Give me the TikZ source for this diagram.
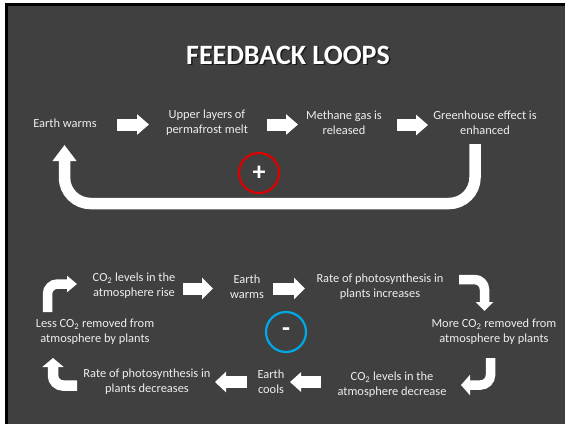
\documentclass[tikz,border=0pt]{standalone}
\usepackage{fontspec}
\setmainfont{Carlito}
\usetikzlibrary{arrows.meta}
\definecolor{bg}{HTML}{404040}
\definecolor{txt}{HTML}{EEEEEE}
\definecolor{pluscol}{HTML}{E00000}
\definecolor{minuscol}{HTML}{00A8E8}
\begin{document}
\begin{tikzpicture}[x=1pt,y=-1pt,
  lbl/.style={text=txt, font=\fontsize{12.4}{15}\selectfont, align=center, inner sep=0pt},
  blockarr/.style n args={3}{draw=white, line width=#1pt, -{Triangle[length=#2pt, width=#3pt]}},
  signcirc/.style={circle, minimum size=40pt, inner sep=0pt, line width=2.2pt, text=white, font=\bfseries\fontsize{26}{26}\selectfont}
]
\fill[white] (0,0) rectangle (565,424);
\useasboundingbox (0,0) rectangle (565,424);
\fill[black] (5,3) rectangle (565,424);
\fill[bg] (8,6) rectangle (565,424);

% title
\node[text=black, opacity=0.6, font=\bfseries\fontsize{28}{28}\selectfont] at (289.5,56.5) {FEEDBACK LOOPS};
\node[text=white, font=\bfseries\fontsize{28}{28}\selectfont] (title) at (288,55) {FEEDBACK LOOPS};

% positive loop
\node[lbl] (t1) at (65,123.5) {Earth warms};
\node[lbl] (t2) at (207,122.5) {Upper layers of\\permafrost melt};
\node[lbl] (t3) at (344,122.5) {Methane gas is\\released};
\node[lbl] (t4) at (485,122.5) {Greenhouse effect is\\enhanced};
\node[signcirc, draw=pluscol] (plus) at (259,173) {+};

\coordinate (a1s) at (117,124.5); \coordinate (a1e) at (149,124.5);
\coordinate (a2s) at (267,124.5); \coordinate (a2e) at (298,124.5);
\coordinate (a3s) at (397,125); \coordinate (a3e) at (428,125);
\draw[blockarr={12}{12}{20}] (a1s) -- (a1e);
\draw[blockarr={12}{12}{20}] (a2s) -- (a2e);
\draw[blockarr={12}{12}{20}] (a3s) -- (a3e);

\coordinate (us) at (475,144); \coordinate (ur) at (475,203.5);
\coordinate (ul) at (64.5,203.5); \coordinate (ue) at (64.5,145);
\draw[blockarr={11.5}{16}{23}, rounded corners=26pt] (us) -- (ur) -- (ul) -- (ue);

% negative loop
\node[lbl] (b1) at (134,286) {CO\textsubscript{2} levels in the\\atmosphere rise};
\node[lbl] (b2) at (247,287) {Earth\\warms};
\node[lbl] (b3) at (380,287) {Rate of photosynthesis in\\plants increases};
\node[lbl] (b4) at (494,331.5) {More CO\textsubscript{2} removed from\\atmosphere by plants};
\node[lbl] (b5) at (392,385) {CO\textsubscript{2} levels in the\\atmosphere decrease};
\node[lbl] (b6) at (271,382) {Earth\\cools};
\node[lbl] (b7) at (147,382) {Rate of photosynthesis in\\plants decreases};
\node[lbl] (b8) at (95,332) {Less CO\textsubscript{2} removed from\\atmosphere by plants};
\node[signcirc, draw=minuscol] (minus) at (286,332) {-};

\coordinate (c1s) at (183,288.5); \coordinate (c1e) at (213,288.5);
\coordinate (c2s) at (273,288.5); \coordinate (c2e) at (305,288.5);
\coordinate (c3s) at (321,382); \coordinate (c3e) at (290,382);
\coordinate (c4s) at (247,382); \coordinate (c4e) at (215,382);
\draw[blockarr={12}{11}{21}] (c1s) -- (c1e);
\draw[blockarr={12}{11}{21}] (c2s) -- (c2e);
\draw[blockarr={12}{11}{19}] (c3s) -- (c3e);
\draw[blockarr={12}{11}{20}] (c4s) -- (c4e);

% curved corner arrows
\coordinate (k1s) at (47.5,312); \coordinate (k1m) at (47.5,284); \coordinate (k1e) at (77,284);
\draw[blockarr={9.5}{10}{16}, rounded corners=10pt] (k1s) -- (k1m) -- (k1e);
\coordinate (k2s) at (459,279.5); \coordinate (k2m) at (484.5,279.5); \coordinate (k2e) at (484.5,311);
\draw[blockarr={9.5}{9}{17}, rounded corners=10pt] (k2s) -- (k2m) -- (k2e);
\coordinate (k3s) at (490.5,358); \coordinate (k3m) at (490.5,385); \coordinate (k3e) at (461,385);
\draw[blockarr={9.5}{9}{20}, rounded corners=10pt] (k3s) -- (k3m) -- (k3e);
\coordinate (k4s) at (77,385.5); \coordinate (k4m) at (53,385.5); \coordinate (k4e) at (53,358);
\draw[blockarr={10.5}{9}{21}, rounded corners=10pt] (k4s) -- (k4m) -- (k4e);
\end{tikzpicture}
\end{document}
